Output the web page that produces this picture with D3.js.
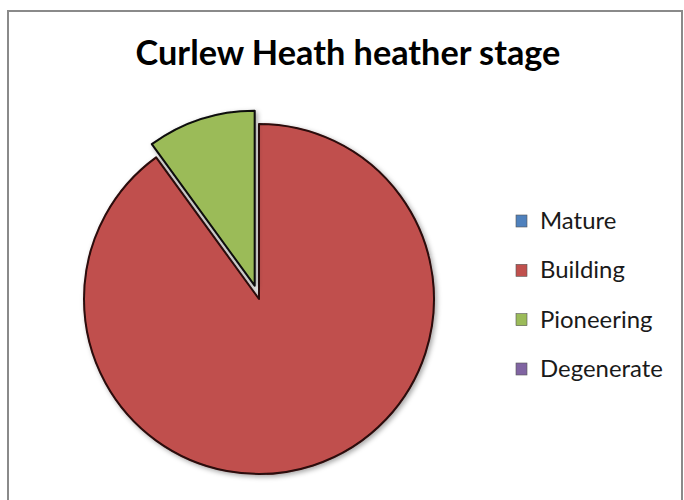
<!DOCTYPE html>
<html><head><meta charset="utf-8">
<script src="https://cdn.jsdelivr.net/npm/d3@7"></script>
<style>body{margin:0;background:#fff;}svg{display:block;}</style>
</head><body>
<script>
const title = "Curlew Heath heather stage";
const categories = ["Mature", "Building", "Pioneering", "Degenerate"];
const values = [0, 90, 10, 0];
const colors = ["#4F81BD", "#C0504D", "#9BBB59", "#8064A2"];
const exploded = [false, false, true, false];

const W = 684, H = 500;
const svg = d3.select("body").append("svg").attr("width", W).attr("height", H);

const defs = svg.append("defs");
const f = defs.append("filter").attr("id", "sh").attr("x", "-20%").attr("y", "-20%").attr("width", "140%").attr("height", "140%");
f.append("feDropShadow").attr("dx", 2).attr("dy", 2).attr("stdDeviation", 2.5).attr("flood-color", "#000").attr("flood-opacity", 0.35);

// chart border
svg.append("rect").attr("x", 8).attr("y", 11).attr("width", 674).attr("height", 495)
  .attr("fill", "#fff").attr("stroke", "#8a8a8a").attr("stroke-width", 2);

// title
const t = svg.append("text").attr("x", 348).attr("y", 65).attr("text-anchor", "middle")
  .attr("font-family", "Lato, 'Open Sans', sans-serif").attr("font-weight", "bold")
  .attr("font-size", 28).attr("fill", "#000").text(title);
const tw = t.node().getComputedTextLength();
t.attr("font-size", 28 * 425 / tw);

// pie
const cx = 259, cy = 299, r = 175;
const pie = d3.pie().sort(null).value(d => d)(values);
const arc = d3.arc().innerRadius(0).outerRadius(r);
const g = svg.append("g").attr("transform", `translate(${cx},${cy})`);
const color = d3.scaleOrdinal().domain(categories).range(colors);
g.selectAll("path").data(pie.filter(d => d.value > 0)).join("path")
  .attr("d", arc)
  .attr("transform", d => {
    if (!exploded[d.index]) return null;
    const a = (d.startAngle + d.endAngle) / 2, off = 14;
    return `translate(${off * Math.sin(a)},${-off * Math.cos(a)})`;
  })
  .attr("fill", d => color(categories[d.index]))
  .attr("stroke", d => d.index === 2 ? "#0a0a0a" : "#2a0808")
  .attr("stroke-width", 2)
  .attr("stroke-linejoin", "round")
  .attr("filter", "url(#sh)");

// legend
const ly = d3.scalePoint().domain(categories).range([221, 369]);
const lg = svg.append("g").selectAll("g").data(categories).join("g")
  .attr("transform", d => `translate(516,${ly(d)})`);
lg.append("rect").attr("x", 0).attr("y", -6).attr("width", 11).attr("height", 12)
  .attr("fill", d => color(d)).attr("stroke", "#555").attr("stroke-width", 0.6);
const lt = lg.append("text").attr("x", 24).attr("y", 8)
  .attr("font-family", "Lato, 'Open Sans', sans-serif").attr("font-size", 20)
  .attr("fill", "#1a1a1a").text(d => d);
const dw = lt.filter(d => d === "Degenerate").node().getComputedTextLength();
lt.attr("font-size", 20 * 123 / dw);
</script>
</body></html>
